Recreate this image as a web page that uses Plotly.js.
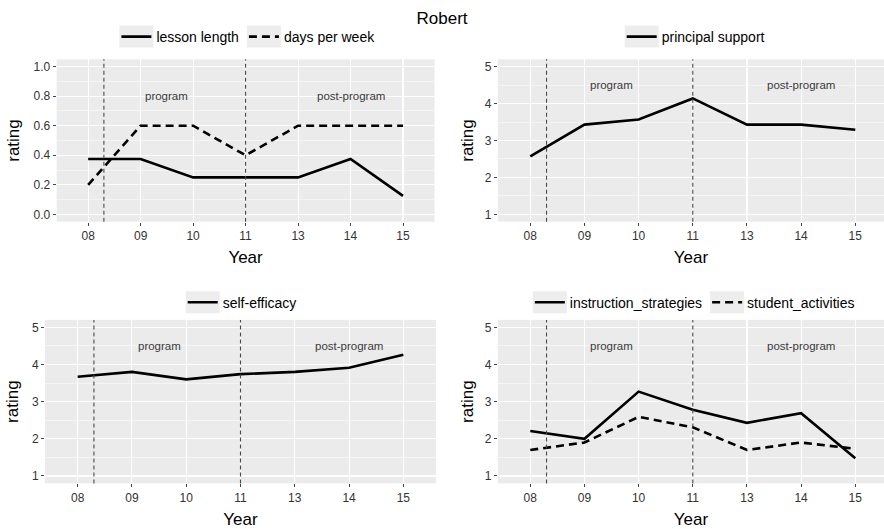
<!DOCTYPE html>
<html><head><meta charset="utf-8">
<script src="https://cdn.plot.ly/plotly-3.0.1.min.js"></script>
<style>html,body{margin:0;padding:0;background:#fff}</style>
</head><body><div id="chart" style="width:884px;height:529px"></div>
<script>
// ---- data ----
const years = ['08','09','10','11','13','14','15'];
const lessonLength = [0.375,0.375,0.25,0.25,0.25,0.375,0.125];
const daysPerWeek = [0.2,0.6,0.6,0.4,0.6,0.6,0.6];
const principalSupport = [2.57,3.43,3.57,4.14,3.43,3.43,3.29];
const selfEfficacy = [3.67,3.80,3.60,3.74,3.80,3.91,4.26];
const instructionStrategies = [2.21,2.00,3.27,2.78,2.43,2.69,1.48];
const studentActivities = [1.70,1.90,2.59,2.31,1.70,1.90,1.73];
const phaseBreaks = [0.3, 3];            // category-index positions of the dashed separators
const phaseLabels = ['program','post-program'];
const phaseLabelX = [1.5, 5];
const phaseLabelYSmall = 0.8;            // panel with 0-1 scale
const phaseLabelYLarge = 4.5;            // panels with 1-5 scale

// ---- styling ----
const FONT = 'Liberation Sans, Arial, Helvetica, sans-serif';
const solid = {color:'#000', width:2.6, dash:'solid'};
const dashed = {color:'#000', width:2.6, dash:'8px,5px'};

function tr(y, name, line, ax, leg){
  return {type:'scatter', mode:'lines', x:years, y:y, name:name, line:line,
          xaxis:'x'+(ax===1?'':ax), yaxis:'y'+(ax===1?'':ax), legend:leg, hoverinfo:'skip'};
}
const data = [
  tr(lessonLength,'lesson length',solid,1,'legend'),
  tr(daysPerWeek,'days per week',dashed,1,'legend'),
  tr(principalSupport,'principal support',solid,2,'legend2'),
  tr(selfEfficacy,'self-efficacy',solid,3,'legend3'),
  tr(instructionStrategies,'instruction_strategies',solid,4,'legend4'),
  tr(studentActivities,'student_activities',dashed,4,'legend4')
];

function xax(domain, range, anchor, standoff){
  return {type:'category', categoryorder:'array', categoryarray:years, domain:domain, range:range,
    anchor:anchor, showgrid:true, gridcolor:'#fff', gridwidth:1.1, zeroline:false, showline:false,
    ticks:'outside', ticklen:3, tickcolor:'#444', tickwidth:1,
    tickfont:{family:FONT,size:12,color:'#333'},
    title:{text:'Year', font:{family:FONT,size:17,color:'#000'}, standoff:standoff},
    automargin:false, fixedrange:true};
}
function yax(domain, range, dtick, minor, fmt, anchor, standoff){
  return {domain:domain, range:range, dtick:dtick, tick0:0, anchor:anchor,
    showgrid:true, gridcolor:'#fff', gridwidth:1.1, zeroline:false, showline:false,
    minor:{dtick:minor, tick0:0, showgrid:true, gridcolor:'#fff', gridwidth:0.5, ticks:''},
    ticks:'outside', ticklen:3, tickcolor:'#444', tickwidth:1, tickformat:fmt,
    tickfont:{family:FONT,size:12,color:'#333'},
    title:{text:'rating', font:{family:FONT,size:17,color:'#000'}, standoff:standoff},
    automargin:false, fixedrange:true};
}
const topY = [0.5809, 0.8879], botY = [0.0862, 0.3953];
function leg(x, y){
  return {orientation:'h', x:x, xanchor:'center', y:y, yanchor:'middle',
    font:{family:FONT,size:14,color:'#000'}, bgcolor:'rgba(0,0,0,0)'};
}
const layout = {
  width:884, height:529, margin:{l:0,r:0,t:0,b:0},
  paper_bgcolor:'#fff', plot_bgcolor:'#ebebeb',
  font:{family:FONT, color:'#000'},
  title:{text:'Robert', x:0.5, xanchor:'center', y:1-18/529, yanchor:'middle', font:{family:FONT,size:17,color:'#000'}},
  xaxis: xax([0.0641,0.4915],[-0.6,6.6],'y',8),
  yaxis: yax(topY,[-0.05,1.05],0.2,0.1,'.1f','x',9),
  xaxis2: xax([0.5631,1],[-0.6,6.53],'y2',8),
  yaxis2: yax(topY,[0.8,5.2],1,0.5,'d','x2',6),
  xaxis3: xax([0.0510,0.4931],[-0.6,6.6],'y3',9),
  yaxis3: yax(botY,[0.8,5.2],1,0.5,'d','x3',9),
  xaxis4: xax([0.5631,1],[-0.6,6.53],'y4',9),
  yaxis4: yax(botY,[0.8,5.2],1,0.5,'d','x4',6),
  legend: leg(0.281, 1-37/529),
  legend2: leg(0.787, 1-37/529),
  legend3: leg(0.274, 1-302.7/529),
  legend4: leg(0.786, 1-302.7/529),
  shapes:[], annotations:[]
};
[1,2,3,4].forEach(function(p){
  const s = p===1?'':String(p);
  phaseBreaks.forEach(function(b){
    layout.shapes.push({type:'line', xref:'x'+s, yref:'y'+s+' domain', x0:b, x1:b, y0:0, y1:1,
      line:{color:'#4a4a4a', width:1.1, dash:'4px,3px'}, layer:'above'});
  });
  phaseLabels.forEach(function(t,i){
    layout.annotations.push({xref:'x'+s, yref:'y'+s, x:phaseLabelX[i], y:p===1?phaseLabelYSmall:phaseLabelYLarge,
      text:t, showarrow:false, font:{family:FONT,size:11.5,color:'#3a3a3a'}});
  });
});
Plotly.newPlot('chart', data, layout, {staticPlot:true, displayModeBar:false}).then(function(gd){
  // grey legend-key backgrounds (ggplot style) behind each legend line symbol
  const root = gd.getBoundingClientRect();
  const keys = [];
  gd.querySelectorAll('.legendlines path').forEach(function(pth){
    const r = pth.getBoundingClientRect();
    if(r.width < 1) return;
    const cx = (r.left + r.right)/2 - root.left, cy = (r.top + r.bottom)/2 - root.top;
    keys.push({type:'rect', xref:'paper', yref:'paper', layer:'below',
      x0:(cx-17)/884, x1:(cx+17)/884, y0:1-(cy+11)/529, y1:1-(cy-11)/529,
      fillcolor:'#ededed', line:{width:0}});
  });
  if(keys.length) Plotly.relayout(gd, {shapes: layout.shapes.concat(keys)});
});
</script></body></html>
